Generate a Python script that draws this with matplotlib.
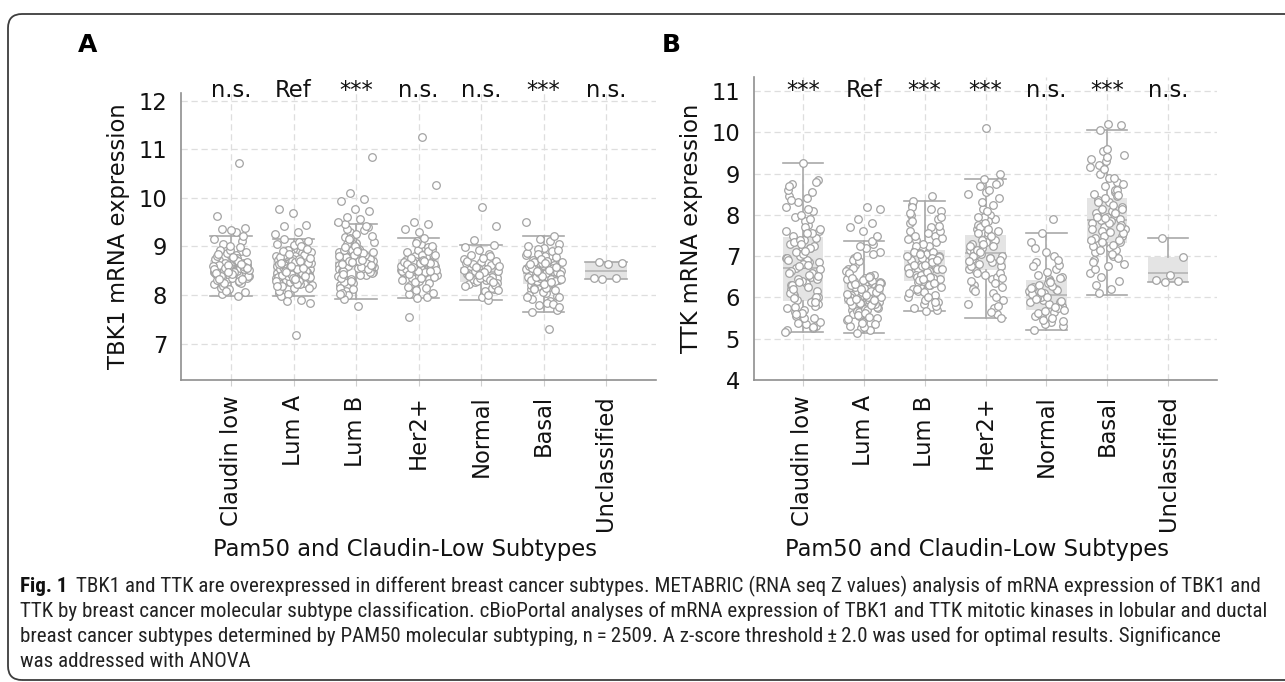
import matplotlib
matplotlib.use('Agg')
import matplotlib.pyplot as plt
from matplotlib import font_manager
from matplotlib.patches import FancyBboxPatch
from matplotlib.transforms import IdentityTransform

plt.rcParams['font.family'] = 'DejaVu Sans'

# ---- data ----
subtypes = ['Claudin low', 'Lum A', 'Lum B', 'Her2+', 'Normal', 'Basal', 'Unclassified']

# panel A: TBK1
tbk1_sig = ['n.s.', 'Ref', '***', 'n.s.', 'n.s.', '***', 'n.s.']
tbk1_q1 = [8.42, 8.38, 8.52, 8.45, 8.27, 8.22, 8.32]
tbk1_med = [8.55, 8.58, 8.66, 8.56, 8.47, 8.45, 8.50]
tbk1_q3 = [8.73, 8.75, 8.90, 8.74, 8.58, 8.62, 8.68]
tbk1_lo = [7.97, 7.98, 7.92, 7.93, 7.89, 7.64, 8.32]
tbk1_hi = [9.21, 9.16, 9.47, 9.17, 9.03, 9.21, 8.68]

tbk1_claudin = [8.55, 8.62, 8.41, 8.73, 8.90, 8.33, 8.48, 8.67, 8.02, 8.58, 8.81, 8.44, 8.26, 8.97, 8.52,
                8.69, 8.37, 8.60, 8.12, 8.75, 8.50, 9.05, 8.46, 8.64, 8.29, 8.56, 8.86, 8.39, 8.71, 8.18,
                8.53, 8.93, 8.43, 7.97, 8.66, 8.35, 8.78, 8.49, 9.12, 8.59, 8.22, 8.83, 8.47, 8.07, 8.63,
                8.31, 8.99, 8.54, 8.40, 8.70, 8.15, 9.21, 8.57, 8.45, 8.68, 8.51, 8.88, 8.36, 8.61, 8.24,
                8.44, 8.59, 8.72, 8.38, 8.65, 8.50, 8.81, 8.28, 8.56, 8.69, 8.47, 8.92, 8.34, 8.62, 8.53,
                8.76, 8.19, 8.58, 8.43, 8.85, 8.66, 8.09, 8.51, 8.74, 8.39, 8.60, 9.01, 8.46, 8.70, 8.25,
                8.55, 8.79, 8.32, 8.64, 8.48, 9.15,
                9.30, 9.35, 9.38, 9.33, 9.62, 10.72]
tbk1_luma = [8.58, 8.41, 8.72, 8.63, 8.25, 8.49, 8.80, 8.56, 8.34, 8.67, 8.95, 8.44, 8.61, 8.12, 8.53,
             8.76, 8.39, 8.70, 8.87, 8.46, 8.59, 8.30, 8.65, 9.03, 8.51, 8.38, 8.74, 8.20, 8.57, 8.83,
             8.43, 8.68, 8.05, 8.55, 8.91, 8.36, 8.62, 8.48, 8.78, 8.27, 8.60, 9.10, 8.45, 8.71, 8.15,
             8.54, 8.86, 8.40, 8.66, 8.32, 8.58, 8.98, 8.50, 8.73, 8.22, 8.64, 8.42, 8.81, 7.98, 8.56,
             8.69, 8.35, 8.52, 9.16, 8.47, 8.75, 8.09, 8.61, 8.93, 8.37, 8.57, 8.18, 8.84, 8.44, 9.06,
             8.29, 8.52, 8.66, 8.31, 8.79, 8.45, 8.59, 8.88, 8.23, 8.62, 8.49, 8.71, 8.37, 9.00, 8.55,
             8.14, 8.68, 8.42, 8.82, 8.57, 8.28, 8.74, 8.50, 8.95, 8.35, 8.63, 8.46, 8.03, 8.77, 8.53,
             8.90, 8.40, 8.60, 8.19, 8.70, 8.48, 9.12, 8.33, 8.65, 8.56, 8.85,
             9.25, 9.30, 9.42, 9.45, 9.68, 9.77, 7.90, 7.88, 7.83, 7.17]
tbk1_lumb = [8.66, 8.55, 8.88, 8.72, 8.41, 8.97, 8.62, 8.80, 8.30, 8.70, 9.08, 8.53, 8.76, 8.93, 8.47,
             8.68, 9.20, 8.59, 8.84, 8.20, 8.64, 9.02, 8.51, 8.78, 8.36, 8.73, 9.14, 8.57, 8.90, 8.09,
             8.67, 8.99, 8.44, 8.82, 9.30, 8.61, 8.75, 8.26, 8.69, 9.05, 8.54, 8.86, 8.00, 8.63, 9.26,
             8.49, 8.79, 8.33, 8.71, 8.95, 8.58, 9.40, 8.74, 8.15, 8.65, 9.11, 8.52, 8.85, 7.92, 8.60,
             8.92, 8.39, 8.77, 9.35, 8.56, 8.83, 8.05, 8.67, 9.17, 8.46, 8.81, 9.47, 8.62, 8.24, 8.89,
             8.71, 8.60, 8.74, 8.95, 8.50, 8.83, 8.68, 9.10, 8.42, 8.78, 8.63, 9.00, 8.35, 8.86, 8.71,
             9.22, 8.55, 8.92, 8.66, 8.12, 8.80, 8.58, 9.05, 8.47, 8.76, 8.64, 9.33, 8.28, 8.88, 8.70,
             8.98, 8.53, 8.82, 8.03, 8.73, 9.15, 8.61, 8.91, 8.44, 9.42, 8.69,
             9.51, 9.57, 9.60, 9.73, 9.78, 9.93, 9.97, 10.10, 10.85, 7.78]
tbk1_her2 = [8.56, 8.48, 8.71, 8.62, 8.33, 8.80, 8.52, 8.66, 8.20, 8.58, 8.92, 8.44, 8.75, 8.39, 8.60,
             9.05, 8.50, 8.69, 8.11, 8.55, 8.85, 8.46, 8.64, 8.28, 8.73, 8.98, 8.53, 8.42, 8.67, 8.02,
             8.59, 9.12, 8.47, 8.78, 8.36, 8.63, 8.54, 8.88, 8.24, 8.70, 8.49, 9.17, 8.57, 8.95, 8.40,
             8.61, 7.96, 8.68, 8.51, 8.83, 8.16, 8.65, 7.93, 8.61, 8.47, 8.77, 8.38, 8.66, 8.54, 8.90,
             8.26, 8.59, 8.72, 8.43, 9.00, 8.50, 8.68, 8.14, 8.57, 8.82, 8.35, 8.63, 8.49, 9.08, 8.31,
             8.70, 8.55, 8.05,
             9.30, 9.36, 9.47, 9.50, 10.27, 11.25, 7.55]
tbk1_normal = [8.47, 8.36, 8.56, 8.22, 8.62, 8.41, 8.75, 8.30, 8.52, 8.12, 8.68, 8.44, 8.85, 8.26, 8.50,
               8.03, 8.58, 8.38, 8.93, 8.19, 8.54, 8.33, 8.71, 7.95, 8.46, 8.80, 8.28, 8.60, 8.08, 8.43,
               9.03, 8.35, 8.65, 7.89, 8.49, 8.24, 8.77, 8.40, 8.15, 8.55, 8.52, 8.37, 8.63, 8.21, 8.45,
               8.70, 8.31, 8.57, 8.10, 8.48, 8.82, 8.27, 8.41, 8.98, 8.00,
               9.14, 9.43, 9.81]
tbk1_basal = [8.45, 8.31, 8.58, 8.12, 8.67, 8.40, 8.82, 8.24, 8.52, 7.98, 8.61, 8.36, 8.90, 8.18, 8.48,
              8.05, 8.73, 8.42, 8.27, 8.56, 7.88, 8.64, 8.33, 8.97, 8.21, 8.50, 7.79, 8.69, 8.38, 8.14,
              8.78, 8.44, 8.01, 8.59, 8.29, 9.05, 8.46, 7.92, 8.62, 8.35, 8.86, 8.16, 8.53, 7.70, 8.71,
              8.41, 8.25, 8.94, 8.49, 7.84, 8.57, 8.10, 8.66, 8.37, 9.12, 8.43, 7.95, 8.80, 8.30, 8.55,
              8.39, 8.53, 8.20, 8.68, 8.47, 8.07, 8.60, 8.34, 8.84, 8.43, 8.15, 8.56, 8.28, 8.75, 7.96,
              8.51, 8.37, 8.92, 8.23, 8.63, 7.82, 8.45, 8.32, 8.70, 8.12, 8.58, 8.40, 9.00, 8.26, 8.49,
              7.75, 8.65,
              7.66, 9.21, 9.15, 9.50, 7.30]
tbk1_uncl = [8.67, 8.65, 8.64, 8.36, 8.35, 8.33]

# panel B: TTK
ttk_sig = ['***', 'Ref', '***', '***', 'n.s.', '***', 'n.s.']
ttk_q1 = [5.91, 5.83, 6.39, 6.67, 5.70, 7.33, 6.38]
ttk_med = [6.72, 6.09, 6.69, 7.08, 6.05, 7.87, 6.58]
ttk_q3 = [7.46, 6.41, 7.14, 7.52, 6.43, 8.40, 6.97]
ttk_lo = [5.17, 5.14, 5.68, 5.50, 5.22, 6.05, 6.38]
ttk_hi = [9.26, 7.37, 8.33, 8.86, 7.55, 10.05, 7.45]

ttk_claudin = [6.72, 5.85, 7.40, 6.20, 8.10, 5.45, 6.95, 7.75, 6.05, 5.30, 7.15, 8.45, 6.50, 5.60, 7.60,
               6.35, 8.75, 5.95, 7.05, 5.20, 6.85, 7.95, 6.15, 5.70, 7.30, 6.60, 8.30, 5.40, 6.90, 7.50,
               5.80, 6.40, 8.60, 7.20, 5.55, 6.00, 7.85, 6.65, 5.25, 7.00, 8.20, 6.25, 5.65, 7.45, 6.80,
               8.70, 5.90, 6.45, 7.65, 5.35, 6.10, 7.25, 8.00, 5.75, 6.55, 7.10, 8.85, 5.50, 6.30, 7.55,
               6.75, 5.17, 8.40, 7.35, 6.00, 5.62, 6.60, 7.20, 5.95, 6.85, 7.70, 6.30, 5.50, 7.40, 6.95,
               8.15, 5.78, 6.45, 7.05, 6.10, 8.55, 5.38, 6.70, 7.55, 6.20, 5.88, 7.30, 6.90, 7.90, 5.60,
               6.52, 7.12, 8.35, 5.28, 6.38, 7.62, 6.78, 5.98,
               8.80, 9.26]
ttk_luma = [6.09, 5.90, 6.30, 5.70, 6.55, 6.00, 5.45, 6.20, 6.85, 5.80, 6.12, 5.30, 6.40, 5.95, 7.10,
            6.03, 5.60, 6.25, 5.85, 6.70, 5.20, 6.15, 5.75, 6.48, 6.05, 7.30, 5.55, 6.35, 5.88, 6.95,
            6.18, 5.40, 6.60, 5.98, 5.68, 6.28, 7.20, 5.82, 6.10, 5.25, 6.45, 5.93, 6.78, 5.50, 6.22,
            6.02, 7.37, 5.65, 6.38, 5.78, 6.90, 5.35, 6.14, 5.96, 6.52, 5.14, 6.07, 5.72, 6.33, 7.05,
            5.86, 6.65, 6.00, 6.25, 5.78, 6.42, 5.92, 6.15, 5.58, 6.35, 6.05, 6.72, 5.85, 6.20, 5.48,
            6.50, 5.97, 6.10, 5.28, 6.30, 5.90, 6.88, 6.02, 5.70, 6.40, 6.13, 5.38, 6.58, 5.82, 7.00,
            6.24, 5.63, 6.46, 5.95, 7.25, 6.08, 5.52, 6.32,
            7.50, 7.60, 7.70, 7.80, 7.90, 8.15, 8.20]
ttk_lumb = [6.69, 6.45, 7.05, 6.20, 7.50, 6.80, 6.00, 7.25, 6.55, 7.90, 5.85, 6.90, 7.10, 6.35, 8.10,
            6.62, 5.75, 7.35, 6.75, 6.10, 7.70, 6.50, 7.00, 5.95, 8.25, 6.85, 6.28, 7.45, 6.65, 7.15,
            5.70, 6.40, 7.80, 6.95, 6.15, 7.60, 6.58, 8.33, 6.05, 7.20, 6.72, 6.30, 7.40, 5.90, 6.88,
            8.00, 6.48, 7.08, 6.25, 7.55, 6.78, 5.80, 7.30, 6.60, 8.15, 6.38, 6.98, 5.68, 7.85, 6.82,
            6.55, 7.00, 6.30, 7.25, 6.70, 6.12, 7.60, 6.85, 6.42, 7.95, 6.62, 7.10, 5.88, 6.95, 7.42,
            6.50, 6.20, 7.72, 6.78, 8.20, 6.35, 7.05, 6.68, 6.02, 7.50, 6.90, 6.45, 8.05,
            8.45]
ttk_her2 = [7.08, 6.75, 7.45, 6.30, 7.90, 7.20, 5.85, 6.95, 7.65, 8.40, 6.55, 7.30, 6.10, 8.70, 7.00,
            7.55, 6.85, 5.60, 8.15, 7.15, 6.45, 7.75, 6.90, 8.55, 6.20, 7.40, 7.05, 5.95, 8.00, 6.65,
            7.60, 8.86, 6.40, 7.25, 6.80, 5.50, 7.85, 7.12, 6.00, 8.30, 6.70, 7.50, 6.58, 8.80, 7.35,
            6.92, 5.75, 7.70, 6.25, 8.60, 7.02, 6.50, 7.95, 7.25, 6.85, 7.55, 6.60, 8.10, 7.00, 6.35,
            7.40, 8.50, 6.95, 7.15, 5.80, 7.80, 6.75, 8.25, 7.10, 6.48, 7.65, 6.15, 8.75, 7.30, 6.88,
            5.65, 7.95,
            9.00, 10.11]
ttk_normal = [6.05, 5.80, 6.35, 5.55, 6.70, 5.95, 6.15, 5.40, 6.55, 5.88, 7.10, 6.25, 5.65, 6.00, 5.30,
              6.45, 6.85, 5.75, 6.10, 7.35, 5.50, 6.30, 5.92, 6.62, 5.22, 6.20, 7.55, 5.70, 6.40, 5.98,
              6.78, 5.35, 6.08, 7.00, 5.60, 6.50, 5.85, 7.20, 6.18, 5.45, 5.90, 6.28, 5.62, 6.48, 6.00,
              6.75, 5.78, 6.12, 5.42, 6.38, 5.96, 6.90, 5.68, 6.22,
              7.89]
ttk_basal = [7.87, 7.50, 8.30, 7.10, 8.80, 7.70, 6.60, 8.10, 9.20, 7.35, 7.95, 6.90, 8.55, 7.60, 9.45,
             7.20, 8.00, 6.40, 8.70, 7.80, 7.00, 9.00, 8.20, 6.75, 7.45, 8.45, 9.55, 7.65, 6.20, 8.35,
             7.90, 9.30, 7.25, 8.60, 6.50, 7.55, 8.90, 8.05, 6.95, 9.10, 7.40, 8.25, 6.10, 7.75, 9.40,
             8.50, 7.15, 8.15, 6.80, 7.85, 7.95, 7.40, 8.40, 7.65, 8.90, 7.15, 8.15, 7.80, 6.70, 8.60,
             7.50, 9.15, 7.05, 8.30, 7.70, 9.60, 6.85, 8.05, 7.35, 8.75, 7.58, 6.30, 8.48, 7.92, 9.35,
             7.28,
             10.05, 10.17, 10.20]
ttk_uncl = [7.45, 6.97, 6.55, 6.42, 6.40, 6.38]

caption_bold = 'Fig. 1'
caption_lines = [
    'TBK1 and TTK are overexpressed in different breast cancer subtypes. METABRIC (RNA seq Z values) analysis of mRNA expression of TBK1 and',
    'TTK by breast cancer molecular subtype classification. cBioPortal analyses of mRNA expression of TBK1 and TTK mitotic kinases in lobular and ductal',
    'breast cancer subtypes determined by PAM50 molecular subtyping, n\u2009=\u20092509. A z-score threshold\u2009\u00b1\u20092.0 was used for optimal results. Significance',
    'was addressed with ANOVA',
]

# ---- layout ----
W, H = 1285, 682
fig = plt.figure(figsize=(W / 100, H / 100), dpi=100)


def px_box(x0, y0, x1, y1):  # pixel box (top-left origin) -> figure fraction
    return [x0 / W, 1 - y1 / H, (x1 - x0) / W, (y1 - y0) / H]


FS = 16.3
BOX_C = '#e4e4e4'
LINE_C = '#a9a9a9'
TXT_C = '#111111'


def panel(ax, points, q1, med, q3, lo, hi, sig, ylim, yticks, ylabel, sig_y, xlab_xy):
    stats = [dict(q1=q1[i], med=med[i], q3=q3[i], whislo=lo[i], whishi=hi[i], fliers=[])
             for i in range(len(subtypes))]
    ax.bxp(stats, positions=range(len(subtypes)), widths=0.66, capwidths=0.66,
           patch_artist=True, showfliers=False, manage_ticks=False, zorder=1.5,
           boxprops=dict(facecolor=BOX_C, edgecolor='none'),
           medianprops=dict(color='#b8b8b8', lw=1.3),
           whiskerprops=dict(color=LINE_C, lw=1.2),
           capprops=dict(color=LINE_C, lw=1.2))
    for i, vals in enumerate(points):
        # quasi-even horizontal spread of the points inside each box
        offs = [((k * 0.6180339887 + 0.31) % 1.0 - 0.5) * 0.58 for k in range(len(vals))]
        ax.scatter([i + o for o in offs], vals, s=30, facecolor='white',
                   edgecolor='#a3a3a3', linewidths=0.9, zorder=3)
    for i, s in enumerate(sig):
        ax.text(i, sig_y, s, ha='center', va='baseline', fontsize=FS, color=TXT_C)

    ax.set_xlim(-0.8, 6.8)
    ax.set_ylim(*ylim)
    ax.set_yticks(yticks)
    ax.set_xticks(range(len(subtypes)))
    ax.set_xticklabels(subtypes, rotation=90, fontsize=FS, color=TXT_C)
    ax.tick_params(axis='x', length=4, color='#cfcfcf', pad=7)
    ax.tick_params(axis='y', length=0, pad=10, labelsize=FS, labelcolor=TXT_C)
    ax.grid(True, ls=(0, (5, 3)), color='#dedede', lw=0.9)
    ax.set_axisbelow(True)
    for sp in ['top', 'right']:
        ax.spines[sp].set_visible(False)
    for sp in ['left', 'bottom']:
        ax.spines[sp].set_color('#8f8f8f')
        ax.spines[sp].set_linewidth(1.2)
    ax.set_ylabel(ylabel, fontsize=FS, color=TXT_C, labelpad=6)
    ax.set_xlabel('Pam50 and Claudin-Low Subtypes', fontsize=FS, color=TXT_C)
    ax.xaxis.set_label_coords(*xlab_xy)


axA = fig.add_axes(px_box(181, 93, 656, 380))
axB = fig.add_axes(px_box(754, 77, 1217, 380))

panel(axA, [tbk1_claudin, tbk1_luma, tbk1_lumb, tbk1_her2, tbk1_normal, tbk1_basal, tbk1_uncl],
      tbk1_q1, tbk1_med, tbk1_q3, tbk1_lo, tbk1_hi, tbk1_sig,
      (6.25, 12.16), range(7, 13), 'TBK1 mRNA expression', 12.08, (0.472, -0.551))
panel(axB, [ttk_claudin, ttk_luma, ttk_lumb, ttk_her2, ttk_normal, ttk_basal, ttk_uncl],
      ttk_q1, ttk_med, ttk_q3, ttk_lo, ttk_hi, ttk_sig,
      (4.0, 11.34), range(4, 12), 'TTK mRNA expression', 10.85, (0.482, -0.521))

fig.text(88 / W, 1 - 45 / H, 'A', fontsize=18, fontweight='bold', ha='center', va='center')
fig.text(671 / W, 1 - 45 / H, 'B', fontsize=18, fontweight='bold', ha='center', va='center')

# rounded frame around the figure (right side runs off the page)
frame = FancyBboxPatch((8, 2), 1320, 666, boxstyle='round,pad=0,rounding_size=14',
                       transform=IdentityTransform(), fill=False, ec='#3d3d3d', lw=1.3)
fig.add_artist(frame)

# ---- caption, pick a narrow face if there is one ----
faces = {(f.name, f.stretch) for f in font_manager.fontManager.ttflist}
cap_font = dict(family=['DejaVu Sans'])
for name, stretch in [('Liberation Sans Narrow', None), ('Roboto Condensed', None),
                      ('DejaVu Sans', 'condensed'), ('Open Sans', 'condensed')]:
    if any(n == name and (stretch is None or s == stretch) for n, s in faces):
        cap_font = dict(family=[name, 'DejaVu Sans'])
        if stretch:
            cap_font['stretch'] = stretch
        break

renderer = fig.canvas.get_renderer()
baselines = [592, 617, 642, 667]
x_left = 20
t_fig = fig.text(x_left / W, 1 - baselines[0] / H, caption_bold, fontsize=12,
                 fontweight='bold', va='baseline', color=TXT_C, **cap_font)
texts = []
for i, line in enumerate(caption_lines):
    texts.append(fig.text(x_left / W, 1 - baselines[i] / H, line, fontsize=12,
                          va='baseline', color='#222222', **cap_font))
# size the caption so a full line spans the frame width
w2 = texts[1].get_window_extent(renderer).width
cap_fs = 12 * (1262 - x_left) / w2
for t in texts + [t_fig]:
    t.set_fontsize(cap_fs)
w_fig = t_fig.get_window_extent(renderer).width
texts[0].set_x((x_left + w_fig + 9) / W)

fig.savefig('out.png', dpi=100)
